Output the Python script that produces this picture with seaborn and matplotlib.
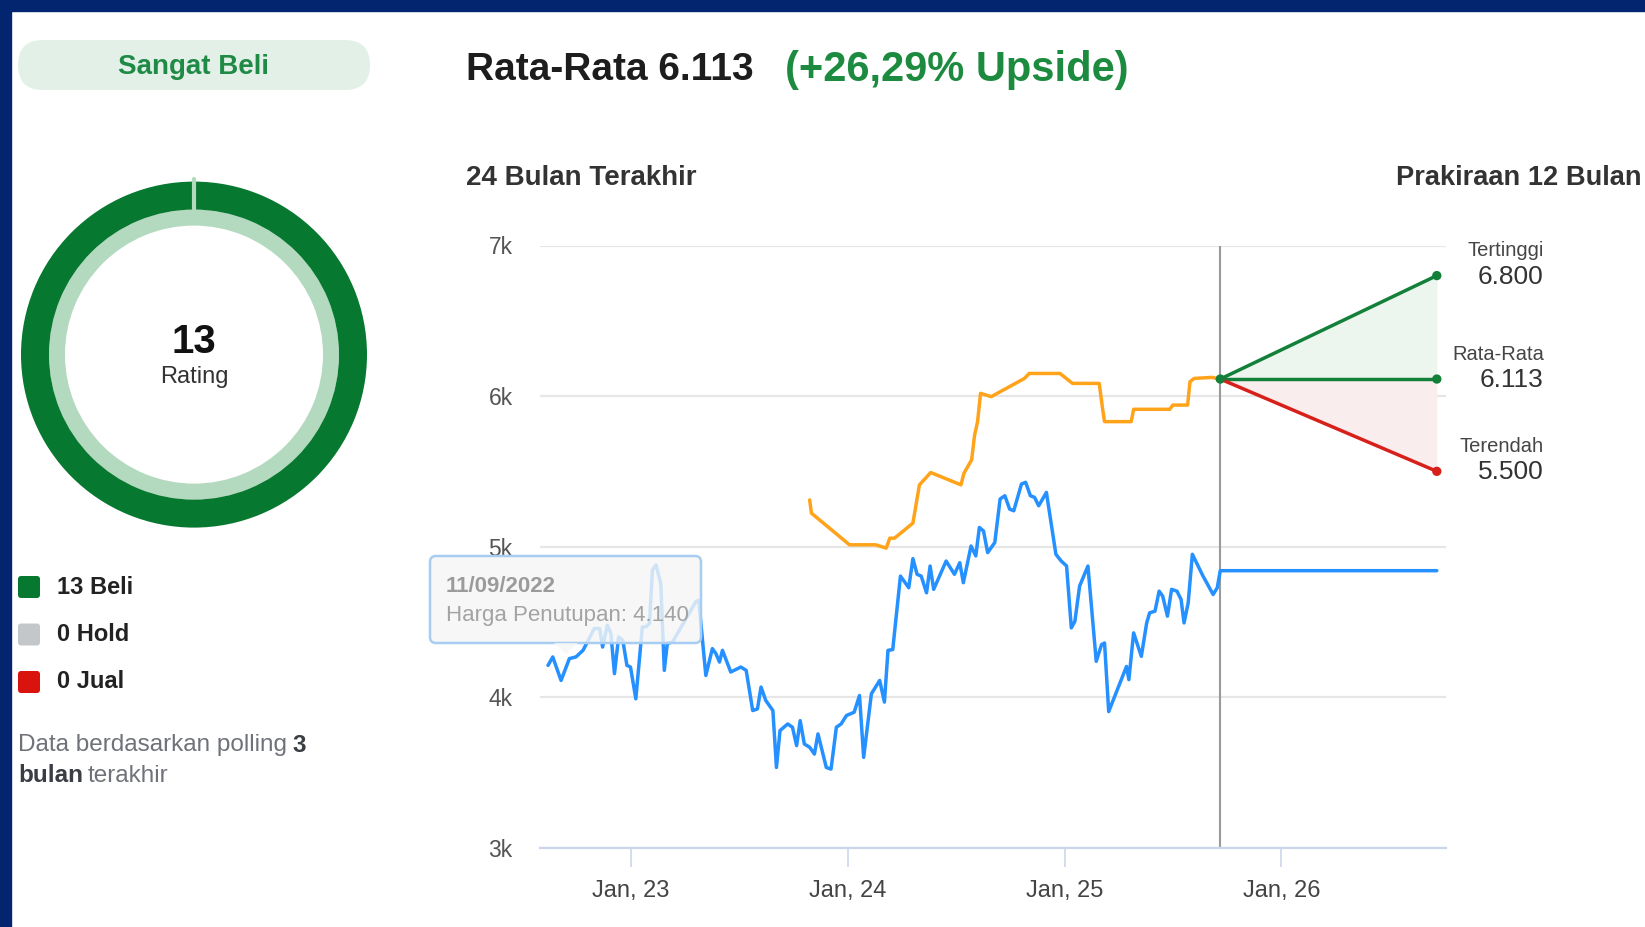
import pandas as pd
import matplotlib.pyplot as plt
import seaborn as sns
from matplotlib.patches import FancyBboxPatch, Rectangle, Polygon

# closing price (blue) - last value carried flat through the forecast year
price_dates = ["2022-08-14", "2022-08-22", "2022-09-05", "2022-09-19", "2022-09-30", "2022-10-12",
               "2022-10-31", "2022-11-09", "2022-11-14", "2022-11-22", "2022-11-28", "2022-12-04",
               "2022-12-11", "2022-12-18", "2022-12-25", "2022-12-31", "2023-01-09", "2023-01-20",
               "2023-01-26", "2023-02-01", "2023-02-06", "2023-02-12", "2023-02-20", "2023-02-26",
               "2023-03-03", "2023-03-12", "2023-04-20", "2023-04-25", "2023-05-07", "2023-05-18",
               "2023-05-24", "2023-05-30", "2023-06-04", "2023-06-18", "2023-07-05", "2023-07-14",
               "2023-07-25", "2023-08-02", "2023-08-08", "2023-08-16", "2023-08-28", "2023-09-03",
               "2023-09-09", "2023-09-22", "2023-09-30", "2023-10-07", "2023-10-13", "2023-10-20",
               "2023-10-29", "2023-11-06", "2023-11-12", "2023-11-26", "2023-12-04", "2023-12-13",
               "2023-12-21", "2023-12-30", "2024-01-12", "2024-01-21", "2024-01-28", "2024-02-10",
               "2024-02-24", "2024-03-03", "2024-03-09", "2024-03-17", "2024-03-30", "2024-04-13",
               "2024-04-20", "2024-04-27", "2024-05-04", "2024-05-13", "2024-05-19", "2024-05-25",
               "2024-06-15", "2024-06-29", "2024-07-08", "2024-07-14", "2024-07-27", "2024-08-04",
               "2024-08-10", "2024-08-17", "2024-08-24", "2024-09-05", "2024-09-14", "2024-09-22",
               "2024-09-30", "2024-10-07", "2024-10-20", "2024-10-27", "2024-11-04", "2024-11-11",
               "2024-11-18", "2024-12-01", "2024-12-17", "2024-12-26", "2025-01-04", "2025-01-12",
               "2025-01-18", "2025-01-26", "2025-02-09", "2025-02-23", "2025-03-04", "2025-03-09",
               "2025-03-16", "2025-04-15", "2025-04-19", "2025-04-27", "2025-05-10", "2025-05-19",
               "2025-05-24", "2025-06-02", "2025-06-09", "2025-06-15", "2025-06-23", "2025-06-30",
               "2025-07-09", "2025-07-16", "2025-07-21", "2025-07-28", "2025-08-04", "2025-08-22",
               "2025-09-08", "2025-09-15", "2025-09-20", "2026-09-20"]
price_close = [4211, 4267, 4111, 4256, 4267, 4311, 4456, 4456, 4333, 4478, 4422, 4156,
               4400, 4378, 4211, 4200, 3989, 4467, 4467, 4489, 4844, 4878, 4756, 4178,
               4356, 4367, 4633, 4644, 4144, 4322, 4289, 4233, 4311, 4167, 4200, 4178,
               3911, 3922, 4067, 3978, 3911, 3533, 3778, 3822, 3800, 3678, 3844, 3689,
               3667, 3622, 3756, 3533, 3522, 3800, 3822, 3878, 3900, 4011, 3600, 4022,
               4111, 3967, 4311, 4316, 4804, 4727, 4920, 4816, 4804, 4693, 4871, 4716,
               4904, 4816, 4893, 4760, 5004, 4938, 5127, 5104, 4960, 5027, 5316, 5338,
               5249, 5238, 5416, 5427, 5338, 5327, 5271, 5360, 4949, 4904, 4871, 4460,
               4504, 4738, 4871, 4238, 4349, 4360, 3904, 4204, 4116, 4427, 4271, 4493,
               4560, 4571, 4704, 4671, 4538, 4716, 4704, 4649, 4493, 4627, 4949, 4804,
               4682, 4727, 4840, 4840]

# average analyst target (orange)
target_dates = ["2023-10-29", "2023-11-01", "2023-12-15", "2024-01-04", "2024-02-17", "2024-03-06",
                "2024-03-12", "2024-03-20", "2024-04-20", "2024-05-01", "2024-05-20", "2024-07-10",
                "2024-07-15", "2024-07-28", "2024-08-02", "2024-08-07", "2024-08-12", "2024-08-30",
                "2024-10-25", "2024-11-02", "2024-12-24", "2025-01-14", "2025-02-28", "2025-03-06",
                "2025-03-09", "2025-04-23", "2025-04-27", "2025-06-27", "2025-07-02", "2025-07-27",
                "2025-07-31", "2025-08-07", "2025-09-06", "2025-09-20"]
target_avg = [5310, 5222, 5078, 5012, 5012, 4990, 5056, 5056, 5156, 5410, 5492, 5410,
              5487, 5576, 5741, 5830, 6018, 5996, 6117, 6150, 6150, 6084, 6084, 5907,
              5830, 5830, 5912, 5912, 5940, 5940, 6095, 6117, 6124, 6113]

# 12 month forecast
fc_dates = ["2025-09-20", "2026-09-20"]
fc_start = 6113
fc_labels = ["Tertinggi", "Rata-Rata", "Terendah"]
fc_values = [6800, 6113, 5500]
fc_colors = ["#13803a", "#13803a", "#d8201a"]

rating_labels = ["Beli", "Hold", "Jual"]
rating_counts = [13, 0, 0]
rating_colors = ["#06782f", "#c4c7ca", "#d9140f"]

ytick_vals = [3000, 4000, 5000, 6000, 7000]
ytick_labels = ["3k", "4k", "5k", "6k", "7k"]
xtick_dates = ["2023-01-01", "2024-01-01", "2025-01-01", "2026-01-01"]
xtick_labels = ["Jan, 23", "Jan, 24", "Jan, 25", "Jan, 26"]

sns.set_style('white')
plt.rcParams['font.family'] = ['Liberation Sans', 'DejaVu Sans']

W, H = 1645, 927
fig = plt.figure(figsize=(W / 100, H / 100), dpi=100)

# pixel-space layers for the panel decorations
bg = fig.add_axes([0, 0, 1, 1], zorder=0)
bg.set_xlim(0, W)
bg.set_ylim(H, 0)
bg.axis('off')
fg = fig.add_axes([0, 0, 1, 1], zorder=5)
fg.set_xlim(0, W)
fg.set_ylim(H, 0)
fg.axis('off')

# ---- main chart ----
ax = fig.add_axes([540.3 / W, 1 - 847.7 / H, (1445.7 - 540.3) / W, (847.7 - 245.5) / H], zorder=2)
ax.patch.set_alpha(0)

price = pd.DataFrame({'date': pd.to_datetime(price_dates), 'close': price_close})
target = pd.DataFrame({'date': pd.to_datetime(target_dates), 'target': target_avg})
fc_x = pd.to_datetime(fc_dates)

ax.fill_between(fc_x, [fc_start, fc_values[1]], [fc_start, fc_values[0]], color='#edf5ef', lw=0, zorder=1)
ax.fill_between(fc_x, [fc_start, fc_values[2]], [fc_start, fc_values[1]], color='#f9eeed', lw=0, zorder=1)
ax.axvline(fc_x[0], color='#9a9a9a', lw=1.5, zorder=2)

sns.lineplot(data=price, x='date', y='close', ax=ax, color='#2590ff', lw=2.5, zorder=3)
sns.lineplot(data=target, x='date', y='target', ax=ax, color='#ffa31a', lw=2.5, zorder=3)

fc = pd.DataFrame({
    'date': list(fc_x) * 3,
    'value': [v for end in fc_values for v in (fc_start, end)],
    'kind': [k for k in fc_labels for _ in range(2)],
})
pal = dict(zip(fc_labels, fc_colors))
sns.lineplot(data=fc, x='date', y='value', hue='kind', palette=pal, ax=ax, lw=2.5,
             legend=False, zorder=4)
ends = fc[fc['date'] == fc_x[1]]
sns.scatterplot(data=ends, x='date', y='value', hue='kind', palette=pal, ax=ax, s=45,
                edgecolor='none', legend=False, zorder=5)
ax.scatter([fc_x[0]], [fc_start], color='#13803a', s=45, zorder=6, edgecolor='none')

for lab, val in zip(fc_labels, fc_values):
    ax.annotate(lab, xy=(fc_x[1], val), xytext=(107, 25), textcoords='offset pixels',
                ha='right', va='center', fontsize=14.5, color='#454545', annotation_clip=False)
    ax.annotate(f"{val:,}".replace(',', '.'), xy=(fc_x[1], val), xytext=(107, -1),
                textcoords='offset pixels', ha='right', va='center', fontsize=19,
                color='#333333', annotation_clip=False)

ax.set_ylim(3000, 7000)
ax.set_xlim(pd.Timestamp("2022-08-01"), pd.Timestamp("2026-10-05"))
ax.set_yticks(ytick_vals)
ax.set_yticklabels(ytick_labels)
ax.set_xticks(pd.to_datetime(xtick_dates))
ax.set_xticklabels(xtick_labels)
ax.set_xlabel('')
ax.set_ylabel('')
ax.grid(axis='y', color='#e6e6e6', lw=1.6)
ax.grid(axis='x', visible=False)
for side in ['top', 'left', 'right']:
    ax.spines[side].set_visible(False)
ax.spines['bottom'].set_color('#ccd6eb')
ax.spines['bottom'].set_linewidth(1.6)
ax.tick_params(axis='y', length=0, pad=20, labelsize=16.5, labelcolor='#555555')
ax.tick_params(axis='x', length=13.5, width=1.2, color='#ccd6eb', pad=10, labelsize=17,
               labelcolor='#444444', bottom=True)

# ---- headings ----
bg.text(466, 70, 'Rata-Rata 6.113', fontsize=28, fontweight='bold', color='#1d1d1d', va='center')
bg.text(785, 70, '(+26,29% Upside)', fontsize=30, fontweight='bold', color='#1c8a3f', va='center')
bg.text(466, 178, '24 Bulan Terakhir', fontsize=20, fontweight='bold', color='#333333', va='center')
bg.text(1642, 178, 'Prakiraan 12 Bulan', fontsize=19.6, fontweight='bold', color='#333333',
        va='center', ha='right')

# ---- left panel ----
bg.add_patch(FancyBboxPatch((18, 40), 352, 50, boxstyle='round,pad=0,rounding_size=25',
                            fc='#e2f0e7', ec='none'))
bg.text(194, 67, 'Sangat Beli', fontsize=20, fontweight='bold', color='#1f8a45',
        ha='center', va='center')

dax = fig.add_axes([(194 - 180) / W, (H - 354.6 - 180) / H, 360 / W, 360 / H], zorder=1)
dax.pie([1], colors=['#b3d9bf'], radius=145, wedgeprops=dict(width=16, lw=0))
dax.pie(rating_counts, colors=rating_colors, radius=173, startangle=90, counterclock=False,
        wedgeprops=dict(width=28, lw=0))
dax.plot([0, 0], [138, 176], color='#b3d9bf', lw=3)
dax.set_xlim(-180, 180)
dax.set_ylim(-180, 180)
dax.set_aspect('equal')
dax.axis('off')
dax.text(0, 13, str(sum(rating_counts)), fontsize=29, fontweight='bold', color='#111111',
         ha='center', va='center')
dax.text(0, -22, 'Rating', fontsize=17, color='#333333', ha='center', va='center')

for i, (lab, cnt, col) in enumerate(zip(rating_labels, rating_counts, rating_colors)):
    yc = 587 + i * 47.5
    bg.add_patch(FancyBboxPatch((18, yc - 11), 22, 22, boxstyle='round,pad=0,rounding_size=3',
                                fc=col, ec='none'))
    bg.text(57, yc, f"{cnt} {lab}", fontsize=17, fontweight='bold', color='#222222', va='center')

renderer = fig.canvas.get_renderer()
t1 = bg.text(18, 745, 'Data berdasarkan polling', fontsize=17.5, color='#6f7278', va='center')
x1 = t1.get_window_extent(renderer=renderer).x1
bg.text(x1 + 5, 745, '3', fontsize=17.5, fontweight='bold', color='#3a3d44', va='center')
t2 = bg.text(18, 776, 'bulan', fontsize=17.5, fontweight='bold', color='#3a3d44', va='center')
x2 = t2.get_window_extent(renderer=renderer).x1
bg.text(x2 + 5, 776, 'terakhir', fontsize=17.5, color='#6f7278', va='center')

# ---- tooltip ----
fg.add_patch(FancyBboxPatch((430, 556), 271, 87, boxstyle='round,pad=0,rounding_size=6',
                            fc=(0.965, 0.965, 0.965, 0.82), ec='#a8cdf2', lw=1.8))
fg.add_patch(Polygon([[554, 643], [566, 654], [578, 643]], closed=True,
                     fc=(0.965, 0.965, 0.965, 0.82), ec='none'))
fg.text(446, 586, '11/09/2022', fontsize=16, fontweight='bold', color='#9b9b9b', va='center')
fg.text(446, 616, 'Harga Penutupan: 4.140', fontsize=16, color='#a3a3a3', va='center')

# ---- screenshot frame ----
fg.add_patch(Rectangle((0, 0), W, 10.5, color='#032570'))
fg.add_patch(Rectangle((0, 0), 10.5, H, color='#032570'))

fig.savefig('out.png', dpi=100)
